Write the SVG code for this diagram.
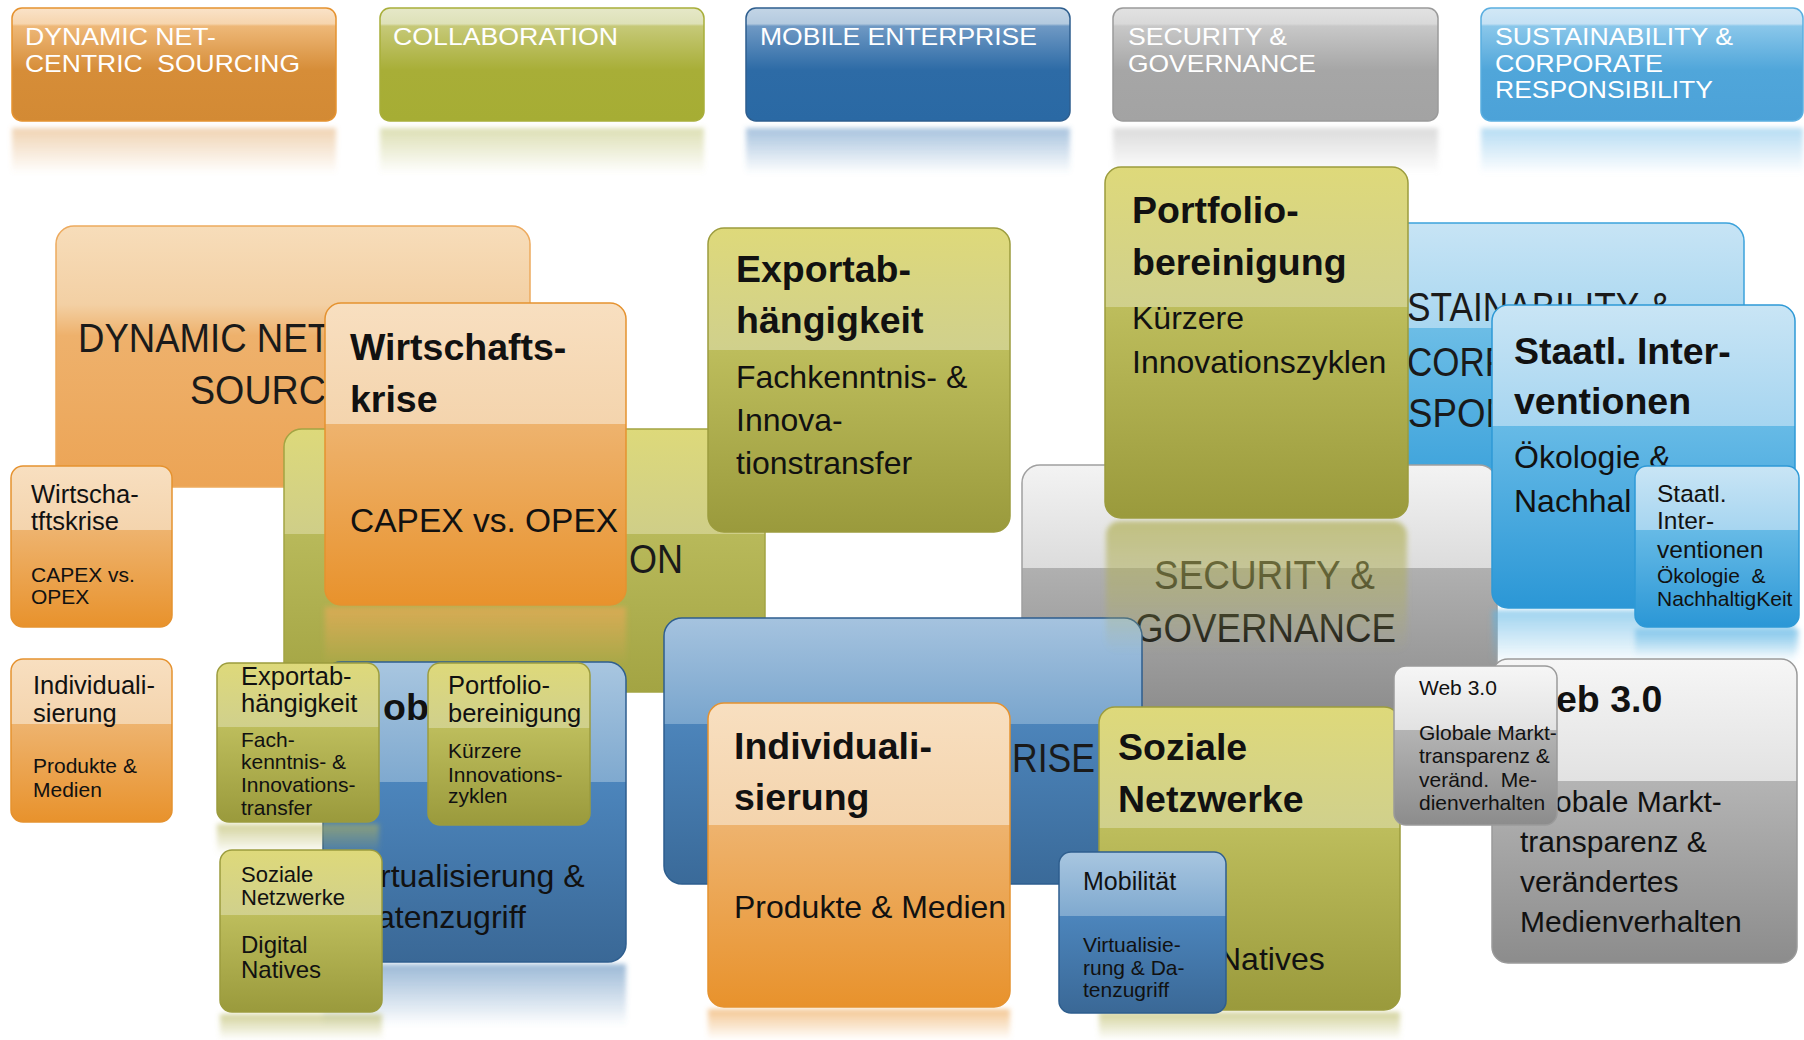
<svg xmlns="http://www.w3.org/2000/svg" width="1804" height="1040" viewBox="0 0 1804 1040">
<defs>
<style>
text{font-family:"Liberation Sans",Arial,sans-serif;fill:#111}
.hd{font-size:24.5px;fill:#fff}
.bg{font-size:40px;fill:#1a1a1a}
.ti{font-size:37.5px;font-weight:bold}
.bd{font-size:32px}
.bd30{font-size:30px}
.st{font-size:25.5px}
.sb{font-size:21px}
.pre{white-space:pre}
.so{stroke:#E5922F;stroke-width:1.5}
.sg{stroke:#9C9C3E;stroke-width:1.5}
.sbl{stroke:#2E5E8E;stroke-width:1.5}
.sgr{stroke:#9A9A9A;stroke-width:1.5}
.slb{stroke:#2E99D6;stroke-width:1.5}
.refl{filter:url(#soft)}
</style>
<filter id="soft" x="-5%" y="-30%" width="110%" height="160%"><feGaussianBlur stdDeviation="2.5"/></filter>
<linearGradient id="hO" x1="0" y1="0" x2="0" y2="1"><stop offset="0" stop-color="#FAE3C9"/><stop offset="0.14" stop-color="#F6D5AE"/><stop offset="0.16" stop-color="#EEB878"/><stop offset="0.55" stop-color="#D68D38"/><stop offset="1" stop-color="#D38A34"/></linearGradient>
<linearGradient id="hG" x1="0" y1="0" x2="0" y2="1"><stop offset="0" stop-color="#E6E8C8"/><stop offset="0.14" stop-color="#DEE1B8"/><stop offset="0.16" stop-color="#C6C978"/><stop offset="0.55" stop-color="#A8AE37"/><stop offset="1" stop-color="#A6AD34"/></linearGradient>
<linearGradient id="hB" x1="0" y1="0" x2="0" y2="1"><stop offset="0" stop-color="#C3D5E6"/><stop offset="0.14" stop-color="#B4CADF"/><stop offset="0.16" stop-color="#6F99C4"/><stop offset="0.55" stop-color="#2D6BA6"/><stop offset="1" stop-color="#2A69A4"/></linearGradient>
<linearGradient id="hGr" x1="0" y1="0" x2="0" y2="1"><stop offset="0" stop-color="#E2E2E2"/><stop offset="0.14" stop-color="#D9D9D9"/><stop offset="0.16" stop-color="#C8C8C8"/><stop offset="0.55" stop-color="#A6A6A6"/><stop offset="1" stop-color="#A3A3A3"/></linearGradient>
<linearGradient id="hL" x1="0" y1="0" x2="0" y2="1"><stop offset="0" stop-color="#D2E8F6"/><stop offset="0.14" stop-color="#C5E1F4"/><stop offset="0.16" stop-color="#8AC7EA"/><stop offset="0.55" stop-color="#50A6DA"/><stop offset="1" stop-color="#4CA2D8"/></linearGradient>
<linearGradient id="gO" x1="0" y1="0" x2="0" y2="1"><stop offset="0" stop-color="#F8DFC0"/><stop offset="0.4" stop-color="#F4D4AD"/><stop offset="0.4" stop-color="#EEB36E"/><stop offset="1" stop-color="#E8922C"/></linearGradient>
<linearGradient id="gG" x1="0" y1="0" x2="0" y2="1"><stop offset="0" stop-color="#DED97A"/><stop offset="0.4" stop-color="#D0D08C"/><stop offset="0.4" stop-color="#BDBD5C"/><stop offset="1" stop-color="#9A9A3C"/></linearGradient>
<linearGradient id="gB" x1="0" y1="0" x2="0" y2="1"><stop offset="0" stop-color="#A8C6E0"/><stop offset="0.4" stop-color="#7FA9CF"/><stop offset="0.4" stop-color="#4C85BC"/><stop offset="1" stop-color="#3A6896"/></linearGradient>
<linearGradient id="gL" x1="0" y1="0" x2="0" y2="1"><stop offset="0" stop-color="#C9E5F5"/><stop offset="0.4" stop-color="#A6D5F0"/><stop offset="0.4" stop-color="#66BAE6"/><stop offset="1" stop-color="#2B97D6"/></linearGradient>
<linearGradient id="gGr" x1="0" y1="0" x2="0" y2="1"><stop offset="0" stop-color="#F6F6F6"/><stop offset="0.4" stop-color="#E2E2E2"/><stop offset="0.4" stop-color="#B4B4B4"/><stop offset="1" stop-color="#8C8C8C"/></linearGradient>
<linearGradient id="bO" x1="0" y1="0" x2="0" y2="1"><stop offset="0" stop-color="#F7DDBA"/><stop offset="0.3" stop-color="#F3D0A4"/><stop offset="0.42" stop-color="#EEB16C"/><stop offset="1" stop-color="#ECA455"/></linearGradient>
<linearGradient id="bG" x1="0" y1="0" x2="0" y2="1"><stop offset="0" stop-color="#DDD97A"/><stop offset="0.4" stop-color="#CFCE88"/><stop offset="0.4" stop-color="#B8B95A"/><stop offset="1" stop-color="#A3A443"/></linearGradient>
<linearGradient id="bB" x1="0" y1="0" x2="0" y2="1"><stop offset="0" stop-color="#A5C3DF"/><stop offset="0.4" stop-color="#79A5CD"/><stop offset="0.4" stop-color="#4C84BA"/><stop offset="1" stop-color="#3A6A99"/></linearGradient>
<linearGradient id="bGr" x1="0" y1="0" x2="0" y2="1"><stop offset="0" stop-color="#F3F3F3"/><stop offset="0.42" stop-color="#DCDCDC"/><stop offset="0.42" stop-color="#B0B0B0"/><stop offset="1" stop-color="#8E8E8E"/></linearGradient>
<linearGradient id="bL" x1="0" y1="0" x2="0" y2="1"><stop offset="0" stop-color="#C7E4F5"/><stop offset="0.4" stop-color="#A9D7F0"/><stop offset="0.4" stop-color="#6CBDE6"/><stop offset="1" stop-color="#3CA2DB"/></linearGradient>
<linearGradient id="rO" x1="0" y1="0" x2="0" y2="1"><stop offset="0" stop-color="#EDA857" stop-opacity="0.65"/><stop offset="1" stop-color="#EDA857" stop-opacity="0"/></linearGradient>
<linearGradient id="rG" x1="0" y1="0" x2="0" y2="1"><stop offset="0" stop-color="#B5B458" stop-opacity="0.6"/><stop offset="1" stop-color="#B5B458" stop-opacity="0"/></linearGradient>
<linearGradient id="rGP" x1="0" y1="0" x2="0" y2="1"><stop offset="0" stop-color="#B0AF55" stop-opacity="0.7"/><stop offset="0.55" stop-color="#B0AF55" stop-opacity="0.4"/><stop offset="1" stop-color="#B0AF55" stop-opacity="0"/></linearGradient>
<linearGradient id="rB" x1="0" y1="0" x2="0" y2="1"><stop offset="0" stop-color="#4A80B5" stop-opacity="0.55"/><stop offset="1" stop-color="#4A80B5" stop-opacity="0"/></linearGradient>
<linearGradient id="rL" x1="0" y1="0" x2="0" y2="1"><stop offset="0" stop-color="#5DB5E4" stop-opacity="0.6"/><stop offset="1" stop-color="#5DB5E4" stop-opacity="0"/></linearGradient>
<linearGradient id="rHO" x1="0" y1="0" x2="0" y2="1"><stop offset="0" stop-color="#DE9E55" stop-opacity="0.45"/><stop offset="1" stop-color="#DE9E55" stop-opacity="0"/></linearGradient>
<linearGradient id="rHG" x1="0" y1="0" x2="0" y2="1"><stop offset="0" stop-color="#B3B857" stop-opacity="0.45"/><stop offset="1" stop-color="#B3B857" stop-opacity="0"/></linearGradient>
<linearGradient id="rHB" x1="0" y1="0" x2="0" y2="1"><stop offset="0" stop-color="#4F86BC" stop-opacity="0.5"/><stop offset="1" stop-color="#4F86BC" stop-opacity="0"/></linearGradient>
<linearGradient id="rHGr" x1="0" y1="0" x2="0" y2="1"><stop offset="0" stop-color="#B0B0B0" stop-opacity="0.45"/><stop offset="1" stop-color="#B0B0B0" stop-opacity="0"/></linearGradient>
<linearGradient id="rHL" x1="0" y1="0" x2="0" y2="1"><stop offset="0" stop-color="#6DB9E6" stop-opacity="0.5"/><stop offset="1" stop-color="#6DB9E6" stop-opacity="0"/></linearGradient>
</defs>

<rect width="1804" height="1040" fill="#fff"/>

<g id="head-dynamic">
<rect class="refl" x="12" y="128" width="324" height="46" fill="url(#rHO)"/>
<rect class="so" x="12" y="8" width="324" height="113" rx="10" fill="url(#hO)"/>
<text class="hd" x="25" y="45" textLength="191" lengthAdjust="spacingAndGlyphs">DYNAMIC NET-</text>
<text class="hd pre" x="25" y="71.5" xml:space="preserve" textLength="275" lengthAdjust="spacingAndGlyphs">CENTRIC  SOURCING</text>
</g>
<g id="head-collaboration">
<rect class="refl" x="380" y="128" width="324" height="46" fill="url(#rHG)"/>
<rect x="380" y="8" width="324" height="113" rx="10" fill="url(#hG)" stroke="#A8AE3A" stroke-width="1.5"/>
<text class="hd" x="393" y="45" textLength="225" lengthAdjust="spacingAndGlyphs">COLLABORATION</text>
</g>
<g id="head-mobile">
<rect class="refl" x="746" y="128" width="324" height="46" fill="url(#rHB)"/>
<rect class="sbl" x="746" y="8" width="324" height="113" rx="10" fill="url(#hB)"/>
<text class="hd" x="760" y="45" textLength="277" lengthAdjust="spacingAndGlyphs">MOBILE ENTERPRISE</text>
</g>
<g id="head-security">
<rect class="refl" x="1113" y="128" width="325" height="46" fill="url(#rHGr)"/>
<rect class="sgr" x="1113" y="8" width="325" height="113" rx="10" fill="url(#hGr)"/>
<text class="hd" x="1128" y="45" textLength="159" lengthAdjust="spacingAndGlyphs">SECURITY &amp;</text>
<text class="hd" x="1128" y="71.5" textLength="188" lengthAdjust="spacingAndGlyphs">GOVERNANCE</text>
</g>
<g id="head-sustainability">
<rect class="refl" x="1481" y="128" width="322" height="46" fill="url(#rHL)"/>
<rect x="1481" y="8" width="322" height="113" rx="10" fill="url(#hL)" stroke="#5AAEE0" stroke-width="1.5"/>
<text class="hd" x="1495" y="45" textLength="238" lengthAdjust="spacingAndGlyphs">SUSTAINABILITY &amp;</text>
<text class="hd" x="1495" y="71.5" textLength="168" lengthAdjust="spacingAndGlyphs">CORPORATE</text>
<text class="hd" x="1495" y="98" textLength="218" lengthAdjust="spacingAndGlyphs">RESPONSIBILITY</text>
</g>

<g id="cat-dynamic">
<rect x="56" y="226" width="474" height="261" rx="18" fill="url(#bO)" stroke="#EDAA5E" stroke-width="1.5"/>
<text class="bg" x="78" y="352" textLength="252" lengthAdjust="spacingAndGlyphs">DYNAMIC NET</text>
<text class="bg" x="190" y="404" textLength="136" lengthAdjust="spacingAndGlyphs">SOURC</text>
</g>
<g id="cat-sustainability">
<rect x="1266" y="223" width="478" height="262" rx="18" fill="url(#bL)" stroke="#3CA2DB" stroke-width="1.5"/>
<text class="bg" x="1407" y="321" textLength="265" lengthAdjust="spacingAndGlyphs">STAINABILITY &amp;</text>
<text class="bg" x="1407" y="376" textLength="101" lengthAdjust="spacingAndGlyphs">CORP</text>
<text class="bg" x="1408" y="427" textLength="104" lengthAdjust="spacingAndGlyphs">SPON</text>
</g>
<g id="cat-security">
<rect x="1022" y="465" width="475" height="245" rx="18" fill="url(#bGr)" stroke="#A0A0A0" stroke-width="1.5"/>
<text class="bg" x="1154" y="589" fill="#2a2a2a" textLength="221" lengthAdjust="spacingAndGlyphs">SECURITY &amp;</text>
<text class="bg" x="1135" y="642" fill="#2a2a2a" textLength="261" lengthAdjust="spacingAndGlyphs">GOVERNANCE</text>
</g>
<g id="cat-collaboration">
<rect x="284" y="429" width="481" height="263" rx="18" fill="url(#bG)" stroke="#A3A443" stroke-width="1.5"/>
<text class="bg" x="629" y="573" textLength="54" lengthAdjust="spacingAndGlyphs">ON</text>
</g>
<g id="cat-mobile">
<rect x="664" y="618" width="478" height="266" rx="18" fill="url(#bB)" stroke="#2E5E8E" stroke-width="1.5"/>
<text class="bg" x="1012" y="772" textLength="83" lengthAdjust="spacingAndGlyphs">RISE</text>
</g>

<g id="wirtschaftskrise">
<rect class="refl" x="325" y="607" width="301" height="58" fill="url(#rO)"/>
<rect class="so" x="325" y="303" width="301" height="302" rx="16" fill="url(#gO)"/>
<text class="ti" x="350" y="360">Wirtschafts-</text>
<text class="ti" x="350" y="412">krise</text>
<text class="bd" x="350" y="532" style="font-size:33.5px">CAPEX vs. OPEX</text>
</g>
<g id="exportabhaengigkeit">
<rect class="sg" x="708" y="228" width="302" height="304" rx="16" fill="url(#gG)"/>
<text class="ti" x="736" y="282">Exportab-</text>
<text class="ti" x="736" y="333">hängigkeit</text>
<text class="bd" x="736" y="388">Fachkenntnis- &amp;</text>
<text class="bd" x="736" y="431">Innova-</text>
<text class="bd" x="736" y="474">tionstransfer</text>
</g>
<g id="portfoliobereinigung">
<rect class="refl" x="1106" y="521" width="301" height="132" rx="14" fill="url(#rGP)"/>
<rect class="sg" x="1105" y="167" width="303" height="351" rx="16" fill="url(#gG)"/>
<text class="ti" x="1132" y="223">Portfolio-</text>
<text class="ti" x="1132" y="275">bereinigung</text>
<text class="bd" x="1132" y="329">Kürzere</text>
<text class="bd" x="1132" y="373">Innovationszyklen</text>
</g>
<g id="staatl-interventionen">
<rect class="refl" x="1492" y="610" width="303" height="55" fill="url(#rL)"/>
<rect class="slb" x="1492" y="305" width="303" height="303" rx="16" fill="url(#gL)"/>
<text class="ti" x="1514" y="364">Staatl. Inter-</text>
<text class="ti" x="1514" y="414">ventionen</text>
<text class="bd" x="1514" y="468">Ökologie &amp;</text>
<text class="bd" x="1514" y="512">Nachhal</text>
</g>
<g id="staatl-small">
<rect class="refl" x="1635" y="629" width="164" height="28" fill="url(#rL)"/>
<rect class="slb" x="1635" y="466" width="164" height="161" rx="12" fill="url(#gL)"/>
<text class="st" x="1657" y="502" style="font-size:24.5px">Staatl.</text>
<text class="st" x="1657" y="529" style="font-size:24.5px">Inter-</text>
<text class="st" x="1657" y="558" style="font-size:24.5px">ventionen</text>
<text class="sb pre" x="1657" y="583" xml:space="preserve">Ökologie  &amp;</text>
<text class="sb" x="1657" y="606">NachhaltigKeit</text>
</g>
<g id="mobilitaet">
<rect class="refl" x="323" y="964" width="303" height="62" fill="url(#rB)"/>
<rect class="sbl" x="323" y="662" width="303" height="300" rx="18" fill="url(#gB)"/>
<text class="ti" x="383" y="720">ob</text>
<text class="bd" x="380" y="887">rtualisierung &amp;</text>
<text class="bd" x="377" y="928">atenzugriff</text>
</g>
<g id="exportab-small">
<rect class="refl" x="217" y="824" width="162" height="30" fill="url(#rG)"/>
<rect class="sg" x="217" y="663" width="162" height="159" rx="12" fill="url(#gG)"/>
<text class="st" x="241" y="685">Exportab-</text>
<text class="st" x="241" y="712">hängigkeit</text>
<text class="sb" x="241" y="747">Fach-</text>
<text class="sb" x="241" y="769">kenntnis- &amp;</text>
<text class="sb" x="241" y="792">Innovations-</text>
<text class="sb" x="241" y="815">transfer</text>
</g>
<g id="portfolio-small">
<rect class="sg" x="428" y="663" width="162" height="162" rx="12" fill="url(#gG)"/>
<text class="st" x="448" y="694">Portfolio-</text>
<text class="st" x="448" y="722">bereinigung</text>
<text class="sb" x="448" y="758">Kürzere</text>
<text class="sb" x="448" y="782">Innovations-</text>
<text class="sb" x="448" y="803">zyklen</text>
</g>
<g id="soziale-small">
<rect class="refl" x="220" y="1014" width="162" height="26" fill="url(#rG)"/>
<rect class="sg" x="220" y="850" width="162" height="162" rx="12" fill="url(#gG)"/>
<text class="sb" x="241" y="882" style="font-size:22px">Soziale</text>
<text class="sb" x="241" y="905" style="font-size:22px">Netzwerke</text>
<text class="st" x="241" y="953" style="font-size:24px">Digital</text>
<text class="st" x="241" y="978" style="font-size:24px">Natives</text>
</g>
<g id="individualisierung">
<rect class="refl" x="708" y="1009" width="302" height="31" fill="url(#rO)"/>
<rect class="so" x="708" y="703" width="302" height="304" rx="16" fill="url(#gO)"/>
<text class="ti" x="734" y="759">Individuali-</text>
<text class="ti" x="734" y="810">sierung</text>
<text class="bd" x="734" y="918">Produkte &amp; Medien</text>
</g>
<g id="soziale-netzwerke">
<rect class="refl" x="1099" y="1012" width="301" height="28" fill="url(#rG)"/>
<rect class="sg" x="1099" y="707" width="301" height="303" rx="16" fill="url(#gG)"/>
<text class="ti" x="1118" y="760">Soziale</text>
<text class="ti" x="1118" y="812">Netzwerke</text>
<text class="bd" x="1218" y="970">Natives</text>
</g>
<g id="mobilitaet-small">
<rect class="sbl" x="1059" y="852" width="167" height="161" rx="12" fill="url(#gB)"/>
<text class="st" x="1083" y="890" style="font-size:25px">Mobilität</text>
<text class="sb" x="1083" y="952">Virtualisie-</text>
<text class="sb" x="1083" y="975">rung &amp; Da-</text>
<text class="sb" x="1083" y="997">tenzugriff</text>
</g>
<g id="web30">
<rect class="sgr" x="1492" y="659" width="305" height="304" rx="16" fill="url(#gGr)"/>
<text class="ti" x="1556" y="712">eb 3.0</text>
<text class="bd30" x="1555" y="812">obale Markt-</text>
<text class="bd30" x="1520" y="852">transparenz &amp;</text>
<text class="bd30" x="1520" y="892">verändertes</text>
<text class="bd30" x="1520" y="932">Medienverhalten</text>
</g>
<g id="web30-small">
<rect class="sgr" x="1394" y="666" width="163" height="159" rx="12" fill="url(#gGr)"/>
<text class="sb" x="1419" y="695">Web 3.0</text>
<text class="sb" x="1419" y="740">Globale Markt-</text>
<text class="sb" x="1419" y="763">transparenz &amp;</text>
<text class="sb pre" x="1419" y="787" xml:space="preserve">veränd.  Me-</text>
<text class="sb" x="1419" y="810">dienverhalten</text>
</g>
<g id="wirtschaftskrise-small">
<rect class="so" x="11" y="466" width="161" height="161" rx="12" fill="url(#gO)"/>
<text class="st" x="31" y="503">Wirtscha-</text>
<text class="st" x="31" y="530">tftskrise</text>
<text class="sb" x="31" y="582">CAPEX vs.</text>
<text class="sb" x="31" y="604">OPEX</text>
</g>
<g id="individualisierung-small">
<rect class="so" x="11" y="659" width="161" height="163" rx="12" fill="url(#gO)"/>
<text class="st" x="33" y="694">Individuali-</text>
<text class="st" x="33" y="722">sierung</text>
<text class="sb" x="33" y="773">Produkte &amp;</text>
<text class="sb" x="33" y="797">Medien</text>
</g>
<g id="connectors"></g>
</svg>
